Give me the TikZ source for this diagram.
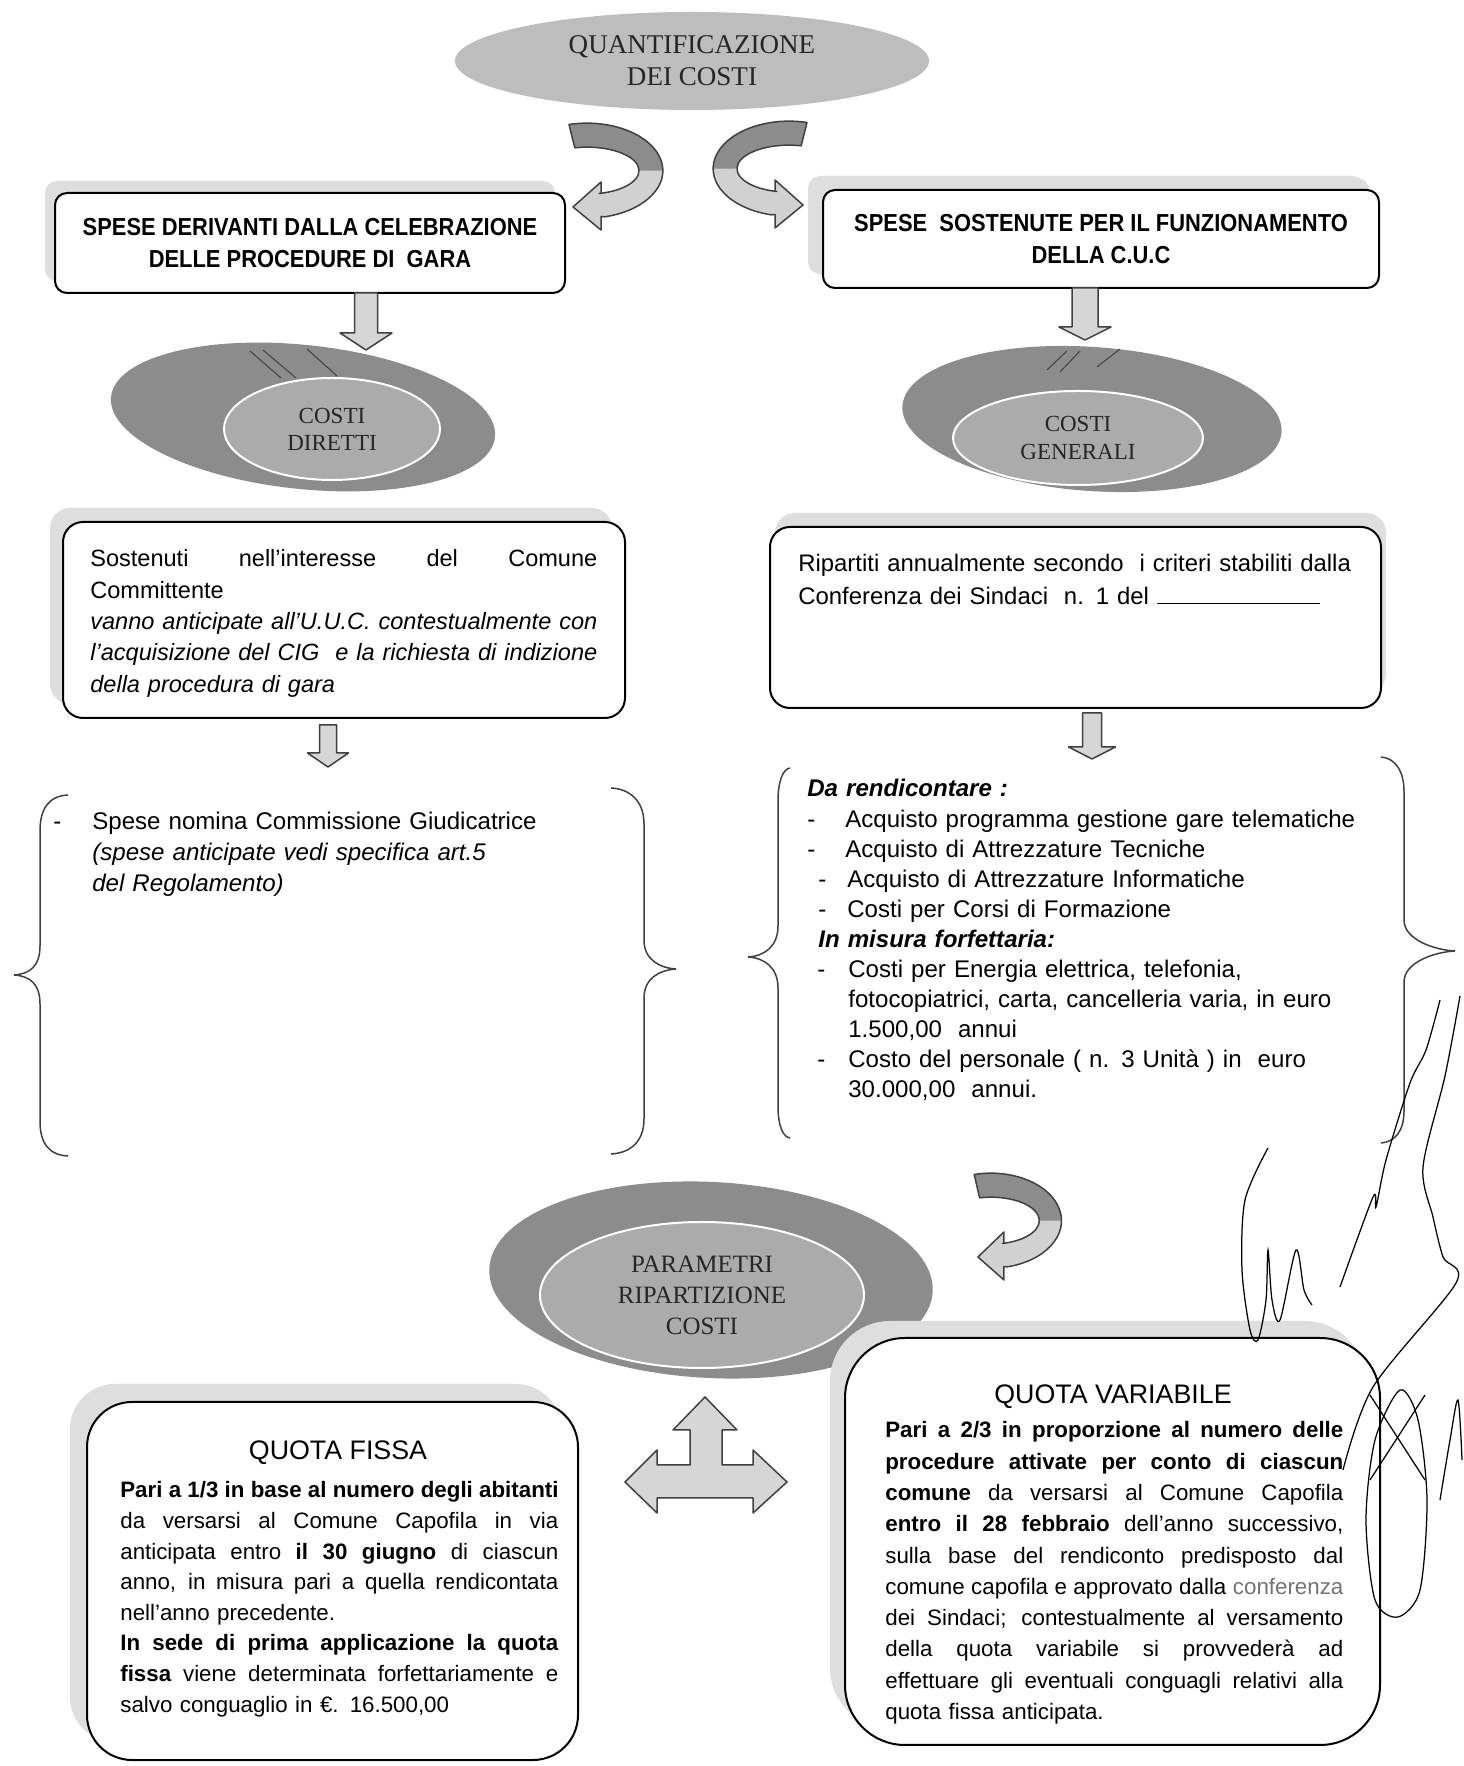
\documentclass[tikz,border=0pt]{standalone}
\usepackage{fontspec}
\setmainfont{Liberation Sans}
\newfontfamily\serfont{Liberation Serif}
\newfontfamily\hdrfont[FakeStretch=0.89]{Liberation Sans}
\usetikzlibrary{shapes.geometric,shadows}
\newcommand{\jline}[2]{\makebox[#1][s]{\spaceskip=0.28em plus 1fil\xspaceskip=0.28em plus 1fil\relax #2}}

\begin{document}
\begin{tikzpicture}[
    oval/.style={ellipse,inner sep=0pt,align=center,text=black!85,font=\serfont\fontsize{15.4pt}{18.2pt}\selectfont},
    discout/.style={ellipse,fill=black!45,inner sep=0pt},
    discin/.style={ellipse,fill=black!33,draw=white,line width=0.04cm,inner sep=0pt,align=center,text=black!85},
    hdrbox/.style={draw,fill=white,rounded corners=0.24cm,line width=0.04cm,align=center,
      font=\hdrfont\bfseries\fontsize{14pt}{18.2pt}\selectfont,
      drop shadow={shadow xshift=-0.2cm,shadow yshift=0.24cm,fill=black!13,opacity=1}},
    txtbox/.style={draw,fill=white,line width=0.04cm},
    bodytxt/.style={anchor=base west,inner sep=0pt},
    blockarr/.style={draw=black!75,fill=black!16,line width=0.03cm,line join=round},
    bracket/.style={draw=black!75,line width=0.03cm},
    sign/.style={line width=0.025cm},
    curvarr/.pic={
      \fill[black!18] (-0.06,-0.03) arc[start angle=103.6,end angle=-76.4,x radius=1.52,y radius=0.95]
        -- (0.58,-1.87) -- (0.58,-2.14) -- (0.02,-1.68) -- (0.58,-1.18) -- (0.58,-1.41) -- (0.545,-1.41)
        arc[start angle=-76.4,end angle=103.6,x radius=1.04,y radius=0.47] -- cycle;
      \fill[black!45] (-0.06,-0.03) arc[start angle=103.6,end angle=0,x radius=1.52,y radius=0.95]
        -- (1.34,-0.95) arc[start angle=0,end angle=103.6,x radius=1.04,y radius=0.47] -- cycle;
      \draw[black!75,line width=0.03cm,line join=round] (-0.06,-0.03) arc[start angle=103.6,end angle=-76.4,x radius=1.52,y radius=0.95]
        -- (0.58,-1.87) -- (0.58,-2.14) -- (0.02,-1.68) -- (0.58,-1.18) -- (0.58,-1.41) -- (0.545,-1.41)
        arc[start angle=-76.4,end angle=103.6,x radius=1.04,y radius=0.47] -- cycle;
    }
  ]
  \useasboundingbox (0,0) rectangle (29.26,35.32);
  \fill[white] (0,0) rectangle (29.26,35.32);%

  % Drawing oval quant
  \node (quant) [oval,fill=black!26,minimum width=9.48cm,minimum height=1.96cm] at (13.84,34.10) {QUANTIFICAZIONE\\DEI COSTI};%

  % Drawing curved arrows
  \pic at (11.44,32.86) {curvarr};%
  \pic[xscale=-1] at (16.08,32.90) {curvarr};%

  % Drawing boxes hdl and hdr
  \node (hdl) [hdrbox,minimum width=10.20cm,minimum height=2.00cm] at (6.20,30.46) {SPESE DERIVANTI DALLA CELEBRAZIONE\\DELLE PROCEDURE DI~ GARA};%
  \node (hdr) [hdrbox,minimum width=11.12cm,minimum height=1.96cm,drop shadow={shadow xshift=-0.3cm,shadow yshift=0.28cm,fill=black!13,opacity=1}] at (22.02,30.54) {SPESE~ SOSTENUTE PER IL FUNZIONAMENTO\\DELLA C.U.C};%

  % Drawing disc cdir
  \node (cdirout) [discout,rotate=-6,minimum width=7.72cm,minimum height=2.88cm] at (6.06,26.98) {};%
  \draw [black!75,line width=0.02cm] (5.00,28.30) -- (5.62,27.76) (5.26,28.32) -- (5.92,27.76) (6.14,28.34) -- (6.74,27.80);%
  \node (cdir) [discin,minimum width=4.32cm,minimum height=2.04cm,font=\serfont\fontsize{13.1pt}{15.4pt}\selectfont] at (6.64,26.74) {COSTI\\DIRETTI};%

  % Drawing disc cgen
  \node (cgenout) [discout,rotate=-4,minimum width=7.60cm,minimum height=2.88cm] at (21.84,26.94) {};%
  \draw [black!75,line width=0.02cm] (20.94,27.92) -- (21.34,28.30) (21.20,27.88) -- (21.60,28.30) (21.94,27.98) -- (22.40,28.34);%
  \node (cgen) [discin,minimum width=5.00cm,minimum height=1.88cm,font=\serfont\fontsize{13.1pt}{15.4pt}\selectfont] at (21.56,26.56) {COSTI\\GENERALI};%

  % Drawing block arrows below hdl and hdr
  \coordinate (a1) at (7.32,29.46);%
  \draw [blockarr] (a1) +(-0.23,0) -- +(-0.23,-0.80) -- +(-0.52,-0.80) -- +(0,-1.14) -- +(0.52,-0.80) -- +(0.23,-0.80) -- +(0.23,0) -- cycle;%
  \coordinate (a2) at (21.70,29.56);%
  \draw [blockarr] (a2) +(-0.26,0) -- +(-0.26,-0.78) -- +(-0.52,-0.78) -- +(0,-1.04) -- +(0.52,-0.78) -- +(0.26,-0.78) -- +(0.26,0) -- cycle;%

  % Drawing box ltbox
  \node (ltbox) [txtbox,rounded corners=0.4cm,minimum width=11.24cm,minimum height=3.92cm,
    drop shadow={shadow xshift=-0.26cm,shadow yshift=0.28cm,fill=black!13,opacity=1}] at (6.88,22.92) {};%
  \node (ltxt) [bodytxt,text width=10.14cm,font=\fontsize{13.4pt}{17.8pt}\selectfont] at (1.80,23.98) {%
    \jline{10.14cm}{Sostenuti nell’interesse del Comune}\\
    Committente\\
    \itshape\jline{10.14cm}{vanno anticipate all’U.U.C. contestualmente con}\\
    \jline{10.14cm}{l’acquisizione del CIG~ e la richiesta di indizione}\\
    della procedura di gara};%

  % Drawing box rtbox
  \node (rtbox) [txtbox,rounded corners=0.4cm,minimum width=12.22cm,minimum height=3.62cm,
    drop shadow={shadow xshift=0.1cm,shadow yshift=0.28cm,fill=black!13,opacity=1}] at (21.51,22.97) {};%
  \node (rtxt) [bodytxt,text width=11.5cm,font=\fontsize{13.6pt}{18.4pt}\selectfont] at (15.96,23.88) {%
    Ripartiti annualmente secondo~ i criteri stabiliti dalla\\
    Conferenza dei Sindaci~ n. 1 del \rule{3.26cm}{0.6pt}};%

  % Drawing small block arrows
  \coordinate (a3) at (6.56,20.82);%
  \draw [blockarr] (a3) +(-0.17,0) -- +(-0.17,-0.56) -- +(-0.41,-0.56) -- +(0,-0.84) -- +(0.41,-0.56) -- +(0.17,-0.56) -- +(0.17,0) -- cycle;%
  \coordinate (a4) at (21.84,21.06);%
  \draw [blockarr] (a4) +(-0.19,0) -- +(-0.19,-0.68) -- +(-0.47,-0.68) -- +(0,-0.92) -- +(0.47,-0.68) -- +(0.19,-0.68) -- +(0.19,0) -- cycle;%

  % Drawing left bracket
  \draw [bracket] (1.36,19.42) .. controls (0.98,19.40) and (0.80,19.15) .. (0.80,18.70) -- (0.80,16.40)
    .. controls (0.80,16.00) and (0.60,15.84) .. (0.28,15.82) .. controls (0.60,15.80) and (0.80,15.64) .. (0.80,15.24)
    -- (0.80,12.90) .. controls (0.80,12.45) and (0.98,12.22) .. (1.36,12.20);%
  \draw [bracket] (12.22,19.56) .. controls (12.60,19.54) and (12.88,19.30) .. (12.88,18.84) -- (12.88,16.52)
    .. controls (12.88,16.12) and (13.20,15.96) .. (13.52,15.94) .. controls (13.20,15.92) and (12.88,15.76) .. (12.88,15.36)
    -- (12.88,12.94) .. controls (12.88,12.48) and (12.60,12.26) .. (12.22,12.24);%
  \node (lbtxt) [bodytxt,text width=11cm,font=\fontsize{13.7pt}{17.6pt}\selectfont] at (1.06,18.72) {%
    \makebox[0.78cm][l]{-}Spese nomina Commissione Giudicatrice\\
    \hspace*{0.78cm}\textit{(spese anticipate vedi specifica art.5}\\
    \hspace*{0.78cm}\textit{del Regolamento)}};%

  % Drawing right bracket
  \draw [bracket] (15.80,19.96) .. controls (15.66,19.94) and (15.56,19.70) .. (15.56,19.30) -- (15.56,16.80)
    .. controls (15.56,16.40) and (15.30,16.20) .. (14.96,16.18) .. controls (15.30,16.16) and (15.56,15.96) .. (15.56,15.56)
    -- (15.56,13.20) .. controls (15.56,12.80) and (15.66,12.58) .. (15.80,12.56);%
  \draw [bracket] (27.62,20.18) .. controls (27.90,20.16) and (28.08,19.90) .. (28.08,19.50) -- (28.08,16.92)
    .. controls (28.08,16.52) and (28.70,16.32) .. (29.10,16.30) .. controls (28.70,16.28) and (28.08,16.08) .. (28.08,15.68)
    -- (28.08,13.10) .. controls (28.08,12.70) and (27.90,12.48) .. (27.62,12.46);%
  \node (rbtxt) [bodytxt,text width=12cm,font=\fontsize{13.7pt}{17.1pt}\selectfont] at (16.14,19.38) {%
    \textbf{\textit{Da rendicontare :}}\\
    \makebox[0.76cm][l]{-}Acquisto programma gestione gare telematiche\\
    \makebox[0.76cm][l]{-}Acquisto di Attrezzature Tecniche\\
    \hspace*{0.22cm}\makebox[0.58cm][l]{-}Acquisto di Attrezzature Informatiche\\
    \hspace*{0.22cm}\makebox[0.58cm][l]{-}Costi per Corsi di Formazione\\
    \hspace*{0.22cm}\textbf{\textit{In misura forfettaria:}}\\
    \hspace*{0.20cm}\makebox[0.62cm][l]{-}Costi per Energia elettrica, telefonia,\\
    \hspace*{0.82cm}fotocopiatrici, carta, cancelleria varia, in euro\\
    \hspace*{0.82cm}1.500,00~ annui\\
    \hspace*{0.20cm}\makebox[0.62cm][l]{-}Costo del personale ( n. 3 Unità ) in~ euro\\
    \hspace*{0.82cm}30.000,00~ annui.};%

  % Drawing curved arrow to param
  \pic[xscale=0.93] at (19.54,11.86) {curvarr};%

  % Drawing disc param
  \node (paramout) [discout,rotate=-3,minimum width=8.88cm,minimum height=3.92cm] at (14.22,9.72) {};%
  \node (param) [discin,minimum width=6.48cm,minimum height=2.92cm,font=\serfont\fontsize{14.2pt}{17.6pt}\selectfont] at (14.04,9.42) {PARAMETRI\\RIPARTIZIONE\\COSTI};%

  % Drawing three way arrow
  \draw [blockarr] (14.10,7.38) -- (14.74,6.72) -- (14.44,6.72) -- (14.44,6.02) -- (15.06,6.02) -- (15.06,6.32)
    -- (15.74,5.68) -- (15.06,5.06) -- (15.06,5.36) -- (13.14,5.36) -- (13.14,5.06) -- (12.50,5.68)
    -- (13.14,6.32) -- (13.14,6.02) -- (13.80,6.02) -- (13.80,6.72) -- (13.46,6.72) -- cycle;%

  % Drawing box qfbox
  \node (qfbox) [txtbox,rounded corners=0.9cm,minimum width=9.82cm,minimum height=7.16cm,
    drop shadow={shadow xshift=-0.34cm,shadow yshift=0.36cm,fill=black!13,opacity=1}] at (6.65,3.70) {};%
  \node (qft) [anchor=base,inner sep=0pt,font=\fontsize{15.25pt}{18pt}\selectfont] at (6.76,6.12) {QUOTA FISSA};%
  \node (qfb) [bodytxt,text width=8.76cm,font=\fontsize{12.7pt}{17.4pt}\selectfont] at (2.40,5.36) {%
    \jline{8.76cm}{\textbf{Pari a 1/3 in base al numero degli abitanti}}\\
    \jline{8.76cm}{da versarsi al Comune Capofila in via}\\
    \jline{8.76cm}{anticipata entro \textbf{il 30 giugno} di ciascun}\\
    \jline{8.76cm}{anno, in misura pari a quella rendicontata}\\
    nell’anno precedente.\\
    \jline{8.76cm}{\textbf{In sede di prima applicazione la quota}}\\
    \jline{8.76cm}{\textbf{fissa} viene determinata forfettariamente e}\\
    salvo conguaglio in €. 16.500,00};%

  % Drawing box qvbox
  \node (qvbox) [txtbox,rounded corners=1.2cm,minimum width=10.70cm,minimum height=8.14cm,
    drop shadow={shadow xshift=-0.3cm,shadow yshift=0.34cm,fill=black!13,opacity=1}] at (22.25,4.49) {};%
  \node (qvt) [anchor=base,inner sep=0pt,font=\fontsize{15.25pt}{18pt}\selectfont] at (22.26,7.24) {QUOTA VARIABILE};%
  \node (qvb) [bodytxt,text width=9.16cm,font=\fontsize{12.7pt}{17.8pt}\selectfont] at (17.70,6.56) {%
    \jline{9.16cm}{\textbf{Pari a 2/3 in proporzione al numero delle}}\\
    \jline{9.16cm}{\textbf{procedure attivate per conto di ciascun}}\\
    \jline{9.16cm}{\textbf{comune} da versarsi al Comune Capofila}\\
    \jline{9.16cm}{\textbf{entro il 28 febbraio} dell’anno successivo,}\\
    \jline{9.16cm}{sulla base del rendiconto predisposto dal}\\
    \jline{9.16cm}{comune capofila e approvato dalla \textcolor{black!55}{conferenza}}\\
    \jline{9.16cm}{dei Sindaci; contestualmente al versamento}\\
    \jline{9.16cm}{della quota variabile si provvederà ad}\\
    \jline{9.16cm}{effettuare gli eventuali conguagli relativi alla}\\
    quota fissa anticipata.};%

  % Drawing signature
  \draw [sign] plot[smooth] coordinates {(25.36,12.36) (24.90,11.32) (24.84,9.92) (25.00,8.72) (25.16,8.52) (25.32,9.32) (25.36,10.32) (25.44,9.32) (25.60,8.92) (25.92,10.32) (26.08,9.52) (26.24,9.22)};%
  \draw [sign] plot[smooth] coordinates {(26.80,9.58) (27.46,11.38) (27.52,11.18) (27.72,12.12) (28.20,13.66) (28.52,14.32) (28.80,15.32)};%
  \draw [sign] plot[smooth] coordinates {(29.20,15.40) (28.90,13.80) (28.46,11.98) (28.66,10.98) (28.86,10.18) (29.12,9.66) (27.46,7.58) (26.86,5.92)};%
  \draw [sign] plot[smooth cycle] coordinates {(28.00,7.52) (27.50,6.52) (27.32,4.92) (27.50,3.32) (27.96,2.98) (28.40,3.52) (28.54,5.32) (28.36,6.92)};%
  \draw [sign] (27.40,7.42) -- (28.50,5.72) (28.50,7.42) -- (27.40,5.72);%
  \draw [sign] plot[smooth] coordinates {(28.80,5.32) (29.00,6.52) (29.16,7.32) (29.24,6.12)};%
\end{tikzpicture}
\end{document}
